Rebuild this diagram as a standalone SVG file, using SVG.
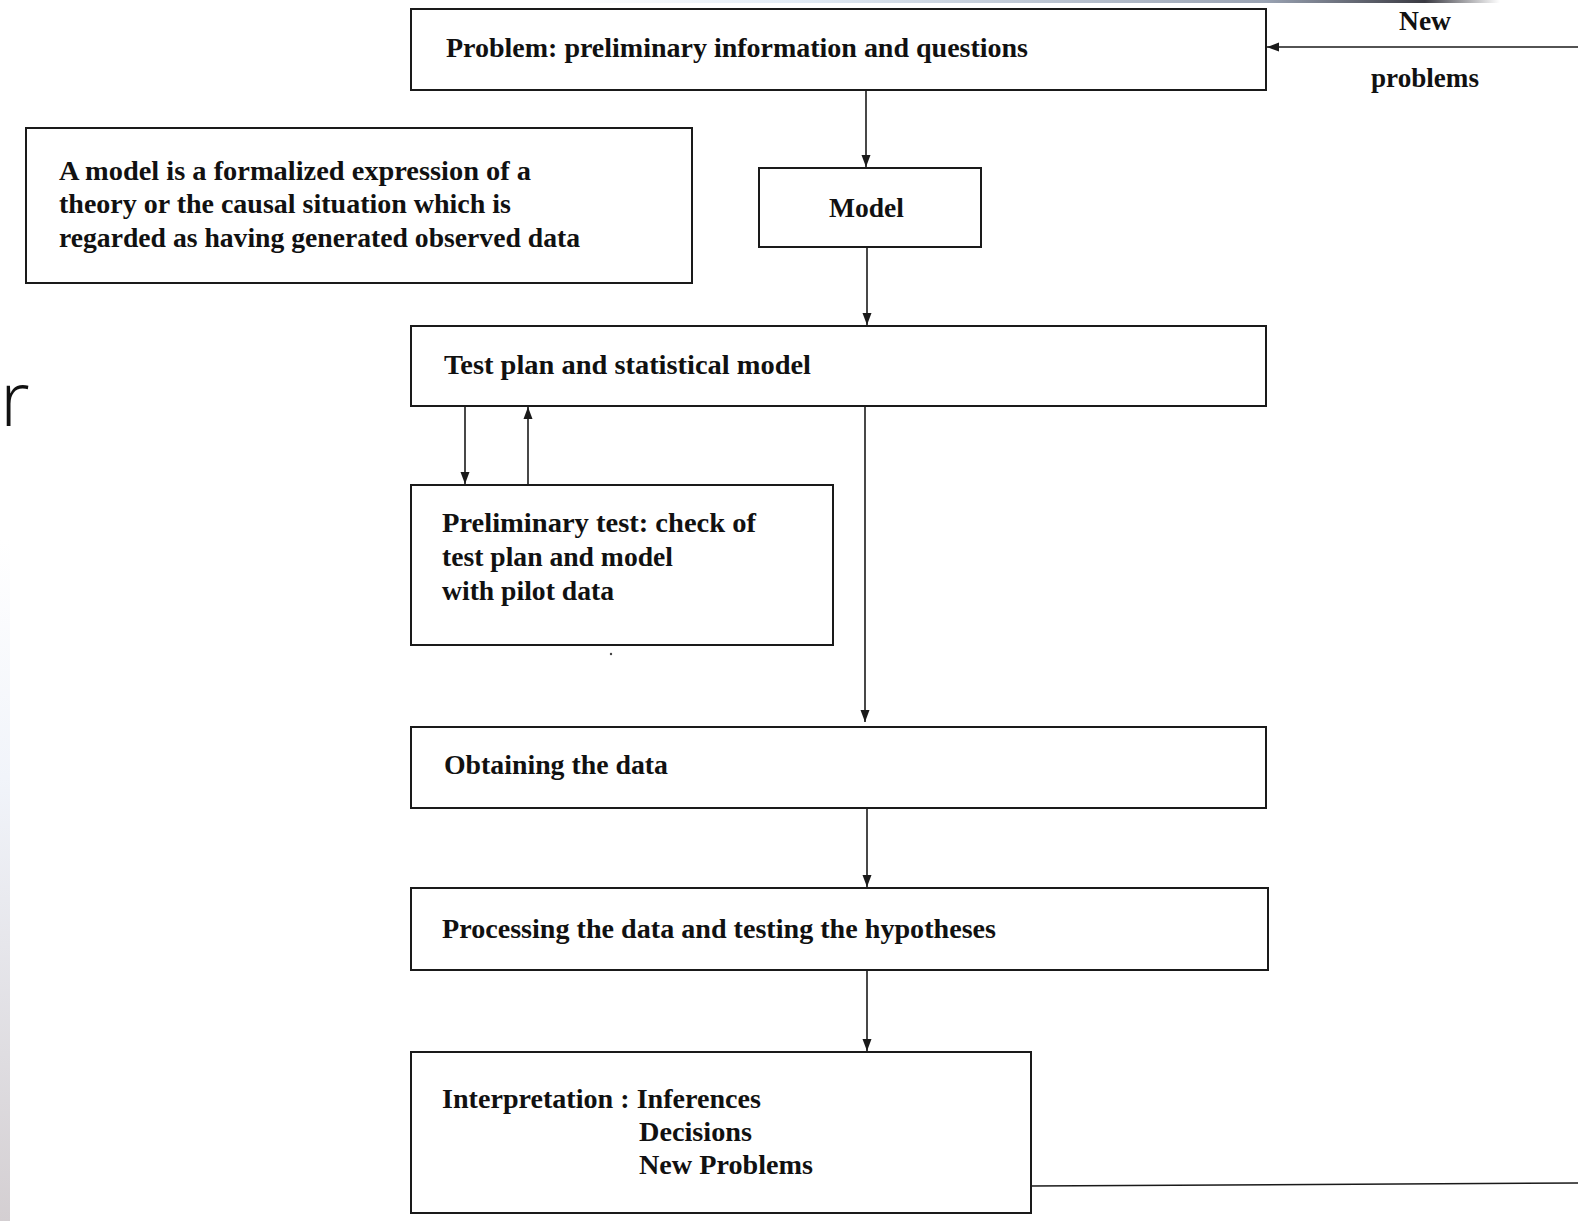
<svg xmlns="http://www.w3.org/2000/svg" width="1578" height="1221" viewBox="0 0 1578 1221">
<style>
.box{fill:#fff;stroke:#1a1a1a;stroke-width:2}
.t{font-family:"Liberation Serif","Times New Roman",serif;font-weight:bold;font-size:28px;fill:#111}
.s{font-size:27px}
.c{fill:none;stroke:#1a1a1a;stroke-width:1.6}
</style>
<defs>
<marker id="ah" markerUnits="userSpaceOnUse" markerWidth="13" markerHeight="11" refX="12" refY="5.5" orient="auto">
<path d="M0,1 L12,5.5 L0,10 Z" fill="#1a1a1a"/>
</marker>
<linearGradient id="lg" x1="0" y1="0" x2="0" y2="1">
<stop offset="0" stop-color="#ffffff"/>
<stop offset="0.35" stop-color="#f1f4fa"/>
<stop offset="1" stop-color="#d4cfd2"/>
</linearGradient>
<linearGradient id="tg" x1="0" y1="0" x2="1" y2="0">
<stop offset="0" stop-color="#ffffff"/>
<stop offset="0.25" stop-color="#e2ebf5"/>
<stop offset="0.75" stop-color="#9aa3b3"/>
<stop offset="0.92" stop-color="#3a3a42"/>
<stop offset="1" stop-color="#ffffff"/>
</linearGradient>
</defs>
<rect width="1578" height="1221" fill="#fff"/>
<rect x="0" y="540" width="10" height="681" fill="url(#lg)"/>
<rect x="560" y="0" width="940" height="3" fill="url(#tg)"/>
<text x="0" y="426" font-family="'Open Sans',sans-serif" font-weight="300" font-size="76" fill="#111">r</text>
<circle cx="611" cy="654" r="1.2" fill="#444"/>

<g id="connectors">
<line class="c" x1="866" y1="90" x2="866" y2="167" marker-end="url(#ah)"/>
<line class="c" x1="867" y1="247" x2="867" y2="325" marker-end="url(#ah)"/>
<line class="c" x1="465" y1="406" x2="465" y2="484" marker-end="url(#ah)"/>
<line class="c" x1="528" y1="485" x2="528" y2="407" marker-end="url(#ah)"/>
<line class="c" x1="865" y1="406" x2="865" y2="722" marker-end="url(#ah)"/>
<line class="c" x1="867" y1="808" x2="867" y2="887" marker-end="url(#ah)"/>
<line class="c" x1="867" y1="970" x2="867" y2="1051" marker-end="url(#ah)"/>
<line class="c" x1="1031" y1="1186" x2="1578" y2="1183"/>
<line class="c" x1="1578" y1="47" x2="1267" y2="47" marker-end="url(#ah)"/>
<text class="t" x="1425" y="30" text-anchor="middle" textLength="52" lengthAdjust="spacingAndGlyphs">New</text>
<text class="t" x="1425" y="87" text-anchor="middle" textLength="108" lengthAdjust="spacingAndGlyphs">problems</text>
</g>

<g id="problem">
<rect class="box" x="411" y="9" width="855" height="81"/>
<text class="t" x="446" y="57" textLength="582" lengthAdjust="spacing">Problem: preliminary information and questions</text>
</g>

<g id="note">
<rect class="box" x="26" y="128" width="666" height="155"/>
<text class="t s" x="59" y="180" textLength="472" lengthAdjust="spacingAndGlyphs">A model is a formalized expression of a</text>
<text class="t s" x="59" y="213" textLength="452" lengthAdjust="spacingAndGlyphs">theory or the causal situation which is</text>
<text class="t s" x="59" y="247" textLength="521" lengthAdjust="spacingAndGlyphs">regarded as having generated observed data</text>
</g>

<g id="model">
<rect class="box" x="759" y="168" width="222" height="79"/>
<text class="t" x="829" y="217" textLength="75" lengthAdjust="spacingAndGlyphs">Model</text>
</g>

<g id="testplan">
<rect class="box" x="411" y="326" width="855" height="80"/>
<text class="t" x="444" y="374" textLength="367" lengthAdjust="spacingAndGlyphs">Test plan and statistical model</text>
</g>

<g id="prelim">
<rect class="box" x="411" y="485" width="422" height="160"/>
<text class="t" x="442" y="532" textLength="314" lengthAdjust="spacingAndGlyphs">Preliminary test: check of</text>
<text class="t" x="442" y="566" textLength="231" lengthAdjust="spacingAndGlyphs">test plan and model</text>
<text class="t" x="442" y="600" textLength="172" lengthAdjust="spacingAndGlyphs">with pilot data</text>
</g>

<g id="obtaining">
<rect class="box" x="411" y="727" width="855" height="81"/>
<text class="t" x="444" y="774" textLength="224" lengthAdjust="spacingAndGlyphs">Obtaining the data</text>
</g>

<g id="processing">
<rect class="box" x="411" y="888" width="857" height="82"/>
<text class="t" x="442" y="938" textLength="554" lengthAdjust="spacingAndGlyphs">Processing the data and testing the hypotheses</text>
</g>

<g id="interpretation">
<rect class="box" x="411" y="1052" width="620" height="161"/>
<text class="t" x="442" y="1108" textLength="319" lengthAdjust="spacingAndGlyphs">Interpretation : Inferences</text>
<text class="t" x="639" y="1141" textLength="113" lengthAdjust="spacingAndGlyphs">Decisions</text>
<text class="t" x="639" y="1174" textLength="174" lengthAdjust="spacingAndGlyphs">New Problems</text>
</g>
</svg>
